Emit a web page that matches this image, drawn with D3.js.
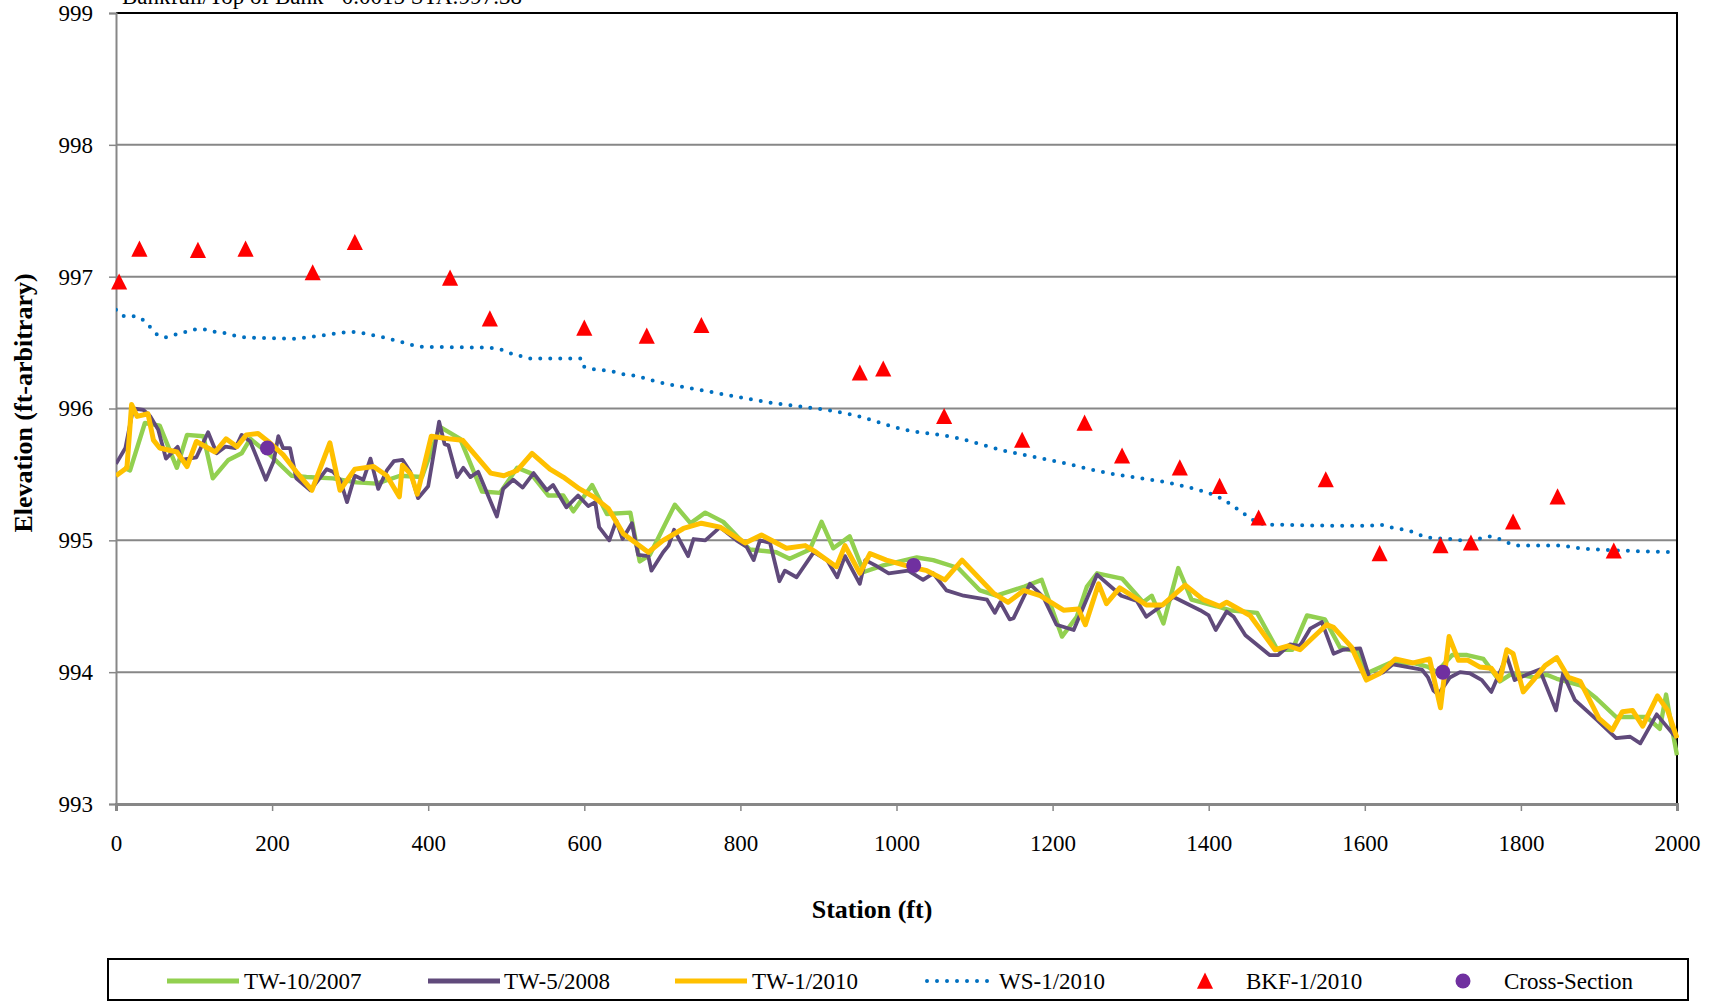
<!DOCTYPE html>
<html>
<head>
<meta charset="utf-8">
<script src="https://cdn.jsdelivr.net/npm/d3@7"></script>
<style>
  body { margin: 0; background: #fff; }
  svg text { font-family: "Liberation Serif", "Times New Roman", serif; fill: #000; }
</style>
</head>
<body>
<div id="chart"></div>
<script>
// ---- data ----
const tw2007Sta = [10, 18, 37, 56, 78, 91, 112, 124, 144, 161, 172, 197, 225, 244, 278, 308, 334, 364, 392, 415, 441, 469, 492, 514, 531, 554, 573, 586, 610, 629, 659, 671, 684, 716, 736, 755, 778, 812, 846, 863, 889, 904, 919, 940, 958, 983, 1026, 1047, 1079, 1107, 1128, 1164, 1186, 1212, 1231, 1244, 1257, 1289, 1316, 1327, 1342, 1361, 1378, 1410, 1427, 1462, 1488, 1507, 1526, 1549, 1568, 1592, 1602, 1632, 1662, 1681, 1692, 1712, 1731, 1752, 1773, 1786, 1799, 1816, 1833, 1846, 1876, 1897, 1922, 1944, 1961, 1978, 1986, 1993, 2000];
const tw2007Elev = [995.55, 995.53, 995.89, 995.87, 995.55, 995.80, 995.79, 995.47, 995.61, 995.66, 995.77, 995.65, 995.49, 995.48, 995.47, 995.44, 995.43, 995.49, 995.48, 995.86, 995.77, 995.37, 995.36, 995.55, 995.51, 995.34, 995.34, 995.22, 995.42, 995.20, 995.21, 994.84, 994.89, 995.27, 995.13, 995.21, 995.14, 994.93, 994.91, 994.86, 994.93, 995.14, 994.94, 995.03, 994.76, 994.81, 994.87, 994.85, 994.79, 994.62, 994.58, 994.65, 994.70, 994.27, 994.42, 994.65, 994.75, 994.71, 994.53, 994.58, 994.37, 994.79, 994.55, 994.50, 994.47, 994.45, 994.17, 994.17, 994.43, 994.40, 994.19, 994.15, 993.99, 994.07, 994.07, 994.04, 994.00, 994.13, 994.13, 994.10, 993.93, 993.98, 993.98, 993.96, 993.98, 993.95, 993.90, 993.80, 993.66, 993.66, 993.66, 993.57, 993.83, 993.59, 993.37];

const tw2008Sta = [0, 12, 22, 35, 44, 54, 64, 79, 84, 103, 118, 129, 140, 153, 161, 172, 192, 202, 208, 214, 223, 231, 249, 270, 278, 287, 296, 306, 317, 326, 336, 347, 356, 367, 377, 387, 400, 414, 421, 426, 437, 445, 454, 464, 488, 496, 509, 521, 535, 552, 560, 577, 592, 605, 614, 619, 632, 641, 649, 661, 669, 682, 686, 701, 708, 715, 733, 740, 755, 774, 795, 808, 817, 825, 838, 850, 857, 872, 894, 911, 924, 934, 953, 960, 973, 990, 1015, 1034, 1047, 1064, 1086, 1116, 1126, 1133, 1145, 1150, 1171, 1188, 1205, 1227, 1257, 1288, 1308, 1320, 1355, 1389, 1400, 1409, 1423, 1432, 1447, 1478, 1489, 1504, 1517, 1530, 1545, 1560, 1572, 1594, 1606, 1624, 1636, 1673, 1681, 1688, 1694, 1709, 1722, 1735, 1750, 1762, 1782, 1792, 1807, 1824, 1845, 1854, 1869, 1897, 1922, 1940, 1953, 1974, 1995, 2000];
const tw2008Elev = [995.58, 995.70, 996.00, 995.99, 995.94, 995.84, 995.62, 995.71, 995.61, 995.63, 995.82, 995.66, 995.71, 995.70, 995.80, 995.75, 995.46, 995.60, 995.79, 995.70, 995.70, 995.47, 995.38, 995.54, 995.52, 995.46, 995.29, 995.49, 995.46, 995.62, 995.39, 995.53, 995.60, 995.61, 995.52, 995.32, 995.41, 995.90, 995.73, 995.72, 995.48, 995.55, 995.48, 995.52, 995.18, 995.39, 995.46, 995.40, 995.51, 995.38, 995.42, 995.25, 995.34, 995.26, 995.29, 995.10, 995.00, 995.15, 995.01, 995.13, 994.89, 994.88, 994.77, 994.91, 994.96, 995.08, 994.88, 995.01, 995.00, 995.10, 995.00, 994.95, 994.85, 995.00, 994.98, 994.69, 994.77, 994.72, 994.91, 994.85, 994.72, 994.88, 994.67, 994.85, 994.81, 994.75, 994.77, 994.70, 994.75, 994.62, 994.58, 994.55, 994.45, 994.53, 994.40, 994.41, 994.67, 994.57, 994.36, 994.32, 994.74, 994.58, 994.54, 994.42, 994.57, 994.47, 994.43, 994.32, 994.46, 994.42, 994.28, 994.13, 994.13, 994.21, 994.20, 994.33, 994.38, 994.14, 994.17, 994.18, 993.96, 994.00, 994.06, 994.02, 993.96, 993.86, 993.83, 993.96, 994.00, 993.99, 993.94, 993.85, 994.12, 993.94, 993.98, 994.02, 993.71, 993.99, 993.79, 993.64, 993.50, 993.51, 993.46, 993.68, 993.53, 993.50];

const tw2010Sta = [0, 14, 20, 27, 41, 48, 56, 78, 91, 103, 127, 141, 155, 167, 182, 195, 214, 231, 251, 274, 287, 306, 330, 347, 363, 367, 378, 386, 404, 426, 444, 480, 497, 514, 533, 556, 573, 594, 612, 631, 650, 682, 701, 727, 750, 774, 806, 827, 859, 883, 897, 923, 934, 953, 966, 987, 1017, 1039, 1062, 1084, 1124, 1143, 1163, 1184, 1214, 1233, 1242, 1259, 1269, 1286, 1320, 1341, 1370, 1393, 1414, 1423, 1453, 1485, 1502, 1517, 1551, 1560, 1583, 1602, 1619, 1639, 1662, 1683, 1697, 1708, 1720, 1732, 1747, 1762, 1773, 1782, 1790, 1803, 1816, 1831, 1846, 1861, 1876, 1900, 1917, 1930, 1943, 1956, 1975, 1988, 2000];
const tw2010Elev = [995.49, 995.55, 996.03, 995.94, 995.96, 995.76, 995.70, 995.67, 995.56, 995.75, 995.67, 995.77, 995.71, 995.80, 995.81, 995.75, 995.65, 995.52, 995.38, 995.74, 995.38, 995.54, 995.56, 995.49, 995.33, 995.57, 995.50, 995.35, 995.79, 995.77, 995.76, 995.51, 995.49, 995.53, 995.66, 995.54, 995.48, 995.39, 995.33, 995.24, 995.05, 994.91, 995.00, 995.09, 995.13, 995.10, 994.98, 995.04, 994.94, 994.96, 994.91, 994.80, 994.96, 994.75, 994.90, 994.85, 994.80, 994.77, 994.70, 994.85, 994.60, 994.53, 994.62, 994.58, 994.47, 994.48, 994.36, 994.67, 994.52, 994.64, 994.51, 994.51, 994.66, 994.55, 994.50, 994.53, 994.43, 994.17, 994.20, 994.17, 994.36, 994.34, 994.19, 993.94, 993.99, 994.10, 994.07, 994.10, 993.73, 994.27, 994.09, 994.09, 994.04, 994.03, 993.94, 994.17, 994.14, 993.85, 993.94, 994.05, 994.11, 993.96, 993.93, 993.65, 993.56, 993.70, 993.71, 993.59, 993.82, 993.71, 993.50];

const wsSta = [0, 12, 25, 35, 45, 53, 64, 76, 89, 102, 115, 128, 141, 154, 166, 231, 245, 258, 271, 284, 297, 310, 323, 336, 349, 362, 375, 388, 479, 492, 505, 517, 530, 596, 599, 611, 624, 637, 650, 664, 677, 689, 749, 833, 945, 1010, 1075, 1138, 1204, 1271, 1345, 1382, 1408, 1421, 1441, 1458, 1475, 1605, 1618, 1632, 1658, 1682, 1709, 1722, 1745, 1760, 1772, 1784, 1795, 1849, 1875, 1902, 1939, 1992];
const wsElev = [996.75, 996.70, 996.70, 996.67, 996.61, 996.56, 996.54, 996.56, 996.58, 996.60, 996.60, 996.58, 996.57, 996.55, 996.54, 996.53, 996.54, 996.55, 996.56, 996.57, 996.58, 996.58, 996.56, 996.55, 996.53, 996.51, 996.49, 996.47, 996.46, 996.45, 996.42, 996.40, 996.38, 996.38, 996.32, 996.30, 996.29, 996.28, 996.26, 996.25, 996.23, 996.21, 996.14, 996.05, 995.95, 995.84, 995.78, 995.68, 995.60, 995.51, 995.44, 995.39, 995.34, 995.30, 995.22, 995.15, 995.12, 995.11, 995.12, 995.10, 995.07, 995.02, 995.01, 995.00, 995.01, 995.03, 995.01, 994.98, 994.96, 994.96, 994.94, 994.93, 994.92, 994.91];

const bkfSta = [4, 30, 105, 166, 252, 306, 428, 479, 600, 680, 750, 953, 983, 1061, 1161, 1241, 1289, 1363, 1414, 1464, 1550, 1619, 1697, 1736, 1790, 1847, 1919];
const bkfElev = [996.96, 997.21, 997.20, 997.21, 997.03, 997.26, 996.99, 996.68, 996.61, 996.55, 996.63, 996.27, 996.30, 995.94, 995.76, 995.89, 995.64, 995.55, 995.41, 995.17, 995.46, 994.90, 994.96, 994.98, 995.14, 995.33, 994.92];

const xsSta = [194, 1022, 1700];
const xsElev = [995.70, 994.81, 994.00];

const xTicks = [0, 200, 400, 600, 800, 1000, 1200, 1400, 1600, 1800, 2000];
const yTicks = [993, 994, 995, 996, 997, 998, 999];

const legendNames = ["TW-10/2007", "TW-5/2008", "TW-1/2010", "WS-1/2010", "BKF-1/2010", "Cross-Section"];

// ---- chart ----
const W = 1716, H = 1001;
const pLeft = 116, pRight = 1677, pTop = 13, pBottom = 804;

const svg = d3.select("#chart").append("svg")
    .attr("width", W)
    .attr("height", H);

svg.append("rect").attr("width", W).attr("height", H).attr("fill", "#fff");

const x = d3.scaleLinear().domain([0, 2000]).range([pLeft, pRight]);
const y = d3.scaleLinear().domain([993, 999]).range([pBottom, pTop]);

// note at the very top, partly cut off as in the source
svg.append("text")
    .attr("x", 122)
    .attr("y", 4)
    .attr("font-size", 23)
    .text("Bankfull/Top of Bank ~0.0015  STA:997.38");

// grid lines
svg.append("g")
    .selectAll("line")
    .data(yTicks.filter(d => d > 993 && d < 999))
    .join("line")
    .attr("x1", pLeft).attr("x2", pRight)
    .attr("y1", d => y(d)).attr("y2", d => y(d))
    .attr("stroke", "#878787")
    .attr("stroke-width", 2);

// plot frame: black on top and right
svg.append("path")
    .attr("d", `M${pLeft},${pTop}H${pRight}V${pBottom}`)
    .attr("fill", "none")
    .attr("stroke", "#000")
    .attr("stroke-width", 2);

// y axis
const yAxis = svg.append("g")
    .attr("transform", `translate(${pLeft},0)`)
    .call(d3.axisLeft(y).tickValues(yTicks).tickSize(7).tickPadding(16).tickFormat(d3.format("d")));
yAxis.select(".domain").attr("stroke", "#878787").attr("stroke-width", 2);
yAxis.selectAll(".tick line").attr("stroke", "#878787").attr("stroke-width", 1.5);
yAxis.selectAll("text").attr("font-size", 23).attr("font-family", "Liberation Serif");

// x axis
const xAxis = svg.append("g")
    .attr("transform", `translate(0,${pBottom})`)
    .call(d3.axisBottom(x).tickValues(xTicks).tickSize(7).tickPadding(24).tickFormat(d3.format("d")));
xAxis.select(".domain").attr("stroke", "#878787").attr("stroke-width", 3);
xAxis.selectAll(".tick line").attr("stroke", "#878787").attr("stroke-width", 1.5);
xAxis.selectAll("text").attr("font-size", 23).attr("font-family", "Liberation Serif");

// axis titles
svg.append("text")
    .attr("text-anchor", "middle")
    .attr("x", 872)
    .attr("y", 918)
    .attr("font-size", 26)
    .attr("font-weight", "bold")
    .text("Station (ft)");

svg.append("text")
    .attr("text-anchor", "middle")
    .attr("transform", "translate(32,403) rotate(-90)")
    .attr("font-size", 26)
    .attr("font-weight", "bold")
    .text("Elevation (ft-arbitrary)");

// lines
const line = d3.line().x(d => x(d[0])).y(d => y(d[1]));
const zip = (a, b) => a.map((v, i) => [v, b[i]]);

svg.append("clipPath").attr("id", "plotclip")
    .append("rect").attr("x", pLeft).attr("y", pTop - 2)
    .attr("width", pRight - pLeft + 2).attr("height", pBottom - pTop + 4);

const plot = svg.append("g").attr("clip-path", "url(#plotclip)");

const series = [
    {sta: tw2007Sta, elev: tw2007Elev, color: "#92D050", width: 4.4},
    {sta: tw2008Sta, elev: tw2008Elev, color: "#604A7B", width: 3.8},
    {sta: tw2010Sta, elev: tw2010Elev, color: "#FFC000", width: 5}
];

series.forEach(s => {
    plot.append("path")
        .datum(zip(s.sta, s.elev))
        .attr("d", line)
        .attr("fill", "none")
        .attr("stroke", s.color)
        .attr("stroke-width", s.width)
        .attr("stroke-linejoin", "round");
});

// water surface, dotted
const wsLine = d3.line().x(d => x(d[0])).y(d => y(d[1])).curve(d3.curveMonotoneX);
plot.append("path")
    .datum(zip(wsSta, wsElev))
    .attr("d", wsLine)
    .attr("fill", "none")
    .attr("stroke", "#0070C0")
    .attr("stroke-width", 4)
    .attr("stroke-linecap", "round")
    .attr("stroke-dasharray", "0 10");

// triangles
const tri = (s) => `M0,${-s}L${s * 0.95},${s * 0.9}H${-s * 0.95}Z`;
svg.append("g")
    .selectAll("path")
    .data(zip(bkfSta, bkfElev))
    .join("path")
    .attr("transform", d => `translate(${x(d[0])},${y(d[1])})`)
    .attr("d", tri(8.5))
    .attr("fill", "#FF0000");

// cross-section points
svg.append("g")
    .selectAll("circle")
    .data(zip(xsSta, xsElev))
    .join("circle")
    .attr("cx", d => x(d[0]))
    .attr("cy", d => y(d[1]))
    .attr("r", 7.5)
    .attr("fill", "#7030A0");

// legend
const legend = svg.append("g");
legend.append("rect")
    .attr("x", 108).attr("y", 959)
    .attr("width", 1580).attr("height", 41)
    .attr("fill", "#fff")
    .attr("stroke", "#000")
    .attr("stroke-width", 2);

const legX = [167, 428, 675, 925, 1205, 1463];
const legTextX = [244, 504, 752, 999, 1246, 1504];
const legY = 981;

legendNames.forEach((name, i) => {
    const g = legend.append("g");
    if (i < 3) {
        g.append("line")
            .attr("x1", legX[i]).attr("x2", legX[i] + 72)
            .attr("y1", legY).attr("y2", legY)
            .attr("stroke", series[i].color)
            .attr("stroke-width", 5);
    } else if (i === 3) {
        g.append("line")
            .attr("x1", legX[i] + 2).attr("x2", legX[i] + 64)
            .attr("y1", legY).attr("y2", legY)
            .attr("stroke", "#0070C0")
            .attr("stroke-width", 4)
            .attr("stroke-linecap", "round")
            .attr("stroke-dasharray", "0 10");
    } else if (i === 4) {
        g.append("path")
            .attr("transform", `translate(${legX[i]},${legY})`)
            .attr("d", tri(8.5))
            .attr("fill", "#FF0000");
    } else {
        g.append("circle")
            .attr("cx", legX[i]).attr("cy", legY).attr("r", 7.5)
            .attr("fill", "#7030A0");
    }
    g.append("text")
        .attr("x", legTextX[i])
        .attr("y", legY + 8)
        .attr("font-size", 23)
        .text(name);
});
</script>
</body>
</html>
